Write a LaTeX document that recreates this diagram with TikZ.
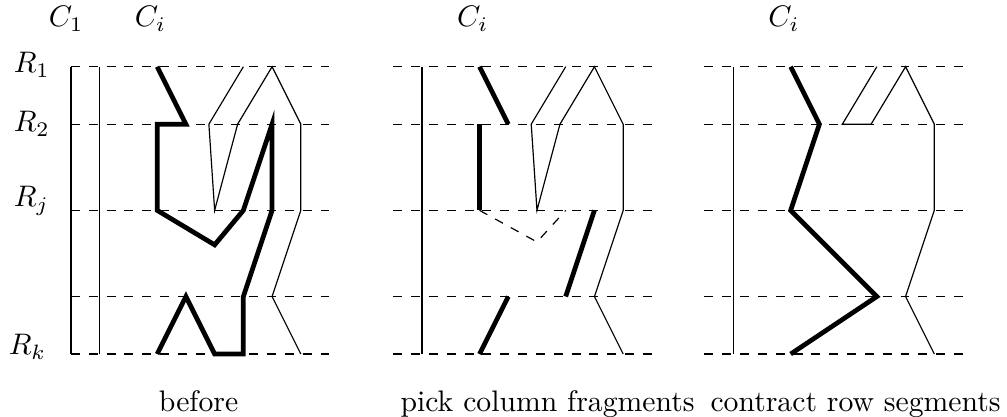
\documentclass[tikz,border=0pt]{standalone}
\begin{document}
\begin{tikzpicture}[x=9.67pt,y=-9.67pt,
  rowline/.style={dashed, line width=0.4pt},
  colline/.style={line width=0.4pt},
  fragthin/.style={line width=0.4pt},
  fragthick/.style={line width=1.6pt},
  lbl/.style={inner sep=0pt, anchor=base west}]
\useasboundingbox (-2.471,-2.322) rectangle (32.58,12.19);

% ---------- panel 1 : before ----------
\begin{scope}
  \foreach \r in {0,2,5,8,10} \draw[rowline] (0,\r) -- (9,\r);
  \draw[colline] (0,0) -- (0,10);
  \draw[colline] (1,0) -- (1,10);
  \node[lbl] (c1) at (-0.79,-1.39) {$C_1$};
  \node[lbl] (ci1) at (2.2,-1.39) {$C_i$};
  \node[lbl] (r1) at (-2.008,0.21) {$R_1$};
  \node[lbl] (r2) at (-2.008,2.27) {$R_2$};
  \node[lbl] (rj) at (-2.008,4.88) {$R_j$};
  \node[lbl] (rk) at (-2.182,10.03) {$R_k$};
  \draw[fragthin] (6,0) -- (4.8,2) -- (5,5) -- (5.8,2) -- (7,0) -- (8,2) -- (8,5) -- (7,8) -- (8,10);
  \draw[fragthick] (3,0) -- (4,2) -- (3,2) -- (3,5) -- (5,6.2) -- (6,5) -- (7,2) -- (7,5) -- (6,8) -- (6,10) -- (5,10) -- (4,8) -- (3,10);
  \node[lbl] (t1) at (3.04,12.0) {before};
\end{scope}

% ---------- panel 2 : pick column fragments ----------
\begin{scope}[shift={(11.22,0)}]
  \foreach \r in {0,2,5,8,10} \draw[rowline] (0,\r) -- (9,\r);
  \draw[colline] (1,0) -- (1,10);
  \node[lbl] (ci2) at (2.2,-1.39) {$C_i$};
  \draw[fragthin] (6,0) -- (4.8,2) -- (5,5) -- (5.8,2) -- (7,0) -- (8,2) -- (8,5) -- (7,8) -- (8,10);
  \draw[fragthick] (3,0) -- (4,2);
  \draw[fragthick] (3,2) -- (3,5);
  \draw[fragthick] (7,5) -- (6,8);
  \draw[fragthick] (4,8) -- (3,10);
  \draw[rowline] (3,5) -- (5,6.1) -- (6,5);
  \node[lbl] (t2) at (0.23,12.0) {pick column fragments};
\end{scope}

% ---------- panel 3 : contract row segments ----------
\begin{scope}[shift={(22.05,0)}]
  \foreach \r in {0,2,5,8,10} \draw[rowline] (0,\r) -- (9,\r);
  \draw[colline] (1,0) -- (1,10);
  \node[lbl] (ci3) at (2.2,-1.39) {$C_i$};
  \draw[fragthin] (6,0) -- (4.8,2) -- (5.8,2) -- (7,0) -- (8,2) -- (8,5) -- (7,8) -- (8,10);
  \draw[fragthick] (3,0) -- (4,2) -- (3,5) -- (6,8) -- (3,10);
  \node[lbl] (t3) at (0.19,12.0) {contract row segments};
\end{scope}
\end{tikzpicture}
\end{document}
